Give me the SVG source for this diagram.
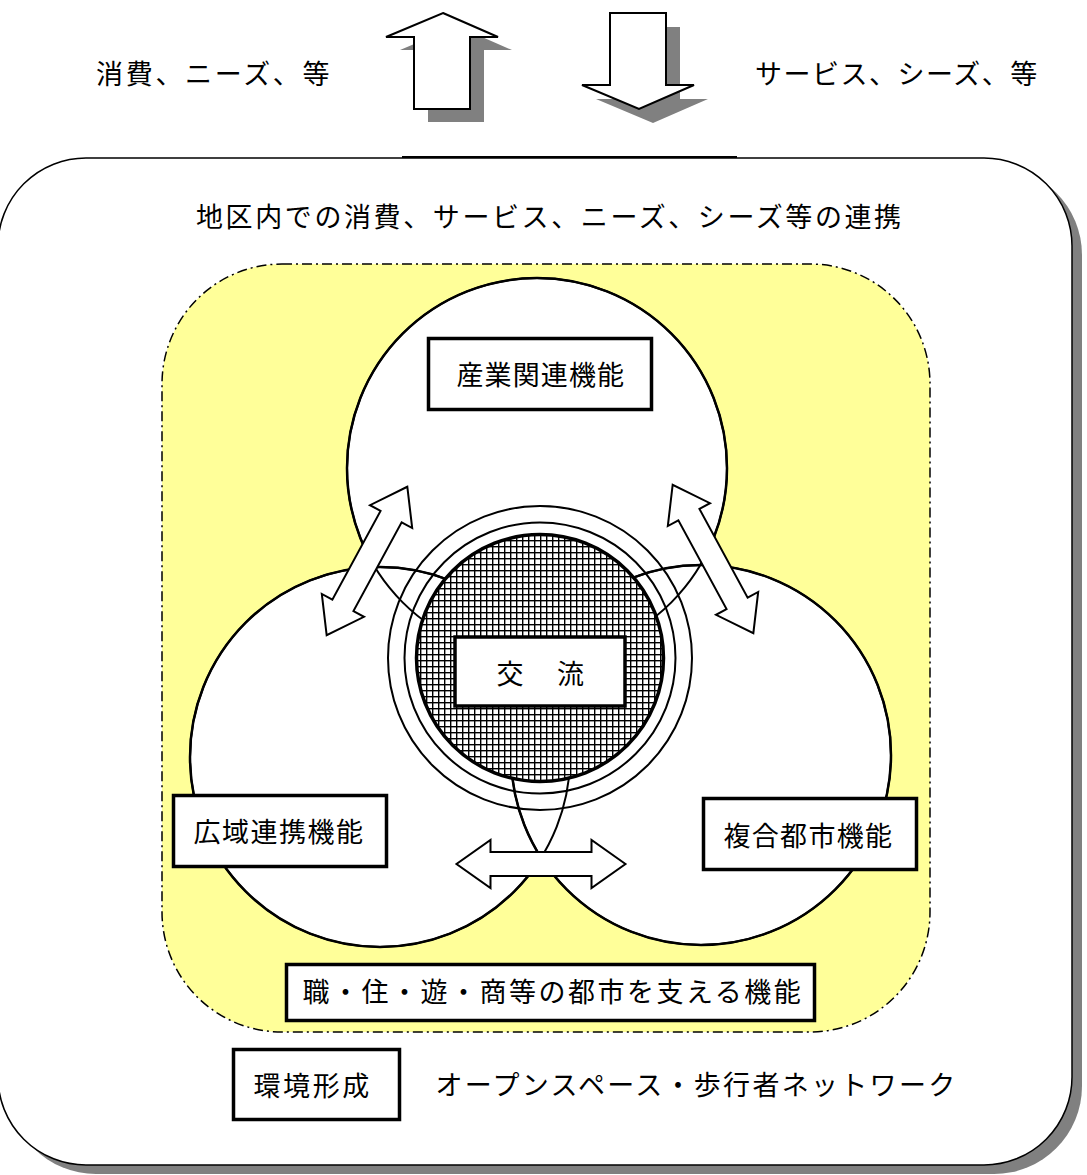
<svg xmlns="http://www.w3.org/2000/svg" width="1087" height="1175" viewBox="0 0 1087 1175">
<defs>
<style>
.t{font-family:"Noto Sans CJK JP","Noto Sans",sans-serif;font-size:27px;fill:#000;dominant-baseline:central}
.box{fill:#fff;stroke:#000;stroke-width:3.5}
.arr{fill:#fff;stroke:#000;stroke-width:2;stroke-linejoin:miter}
.shadow{fill:#808080}
.circ{fill:#fff;stroke:#000;stroke-width:2.5}
.arc{fill:none;stroke:#000;stroke-width:2}
</style>
<pattern id="grid" patternUnits="userSpaceOnUse" width="6" height="6">
<rect width="6" height="6" fill="#000"/>
<rect x="1.4" y="1.4" width="4.6" height="4.6" fill="#fff"/>
</pattern>
<polygon id="dbl" points="84.5,0 50.5,-24 50.5,-12 -50.5,-12 -50.5,-24 -84.5,0 -50.5,24 -50.5,12 50.5,12 50.5,24"/>
</defs>

<g id="outer-frame">
<rect x="8" y="167" width="1074" height="1007" rx="88" class="shadow"/>
<rect x="-2" y="158" width="1074" height="1007" rx="88" fill="#fff" stroke="#000" stroke-width="1.5"/>
<line x1="402" y1="157" x2="737" y2="157" stroke="#000" stroke-width="2"/>
</g>

<g id="flow-in">
<polygon class="shadow" points="457,26 512,50 484,50 484,122 428,122 428,50 400,50"/>
<polygon class="arr" points="443,13 498,37 470,37 470,109 414,109 414,37 386,37"/>
<text class="t" x="96" y="72" style="letter-spacing:2.7px">消費、ニーズ、等</text>
</g>
<g id="flow-out">
<polygon class="shadow" points="624,27 680,27 680,99 708,99 653,123 596,99 624,99"/>
<polygon class="arr" points="610,13 666,13 666,85 694,85 639,109 582,85 610,85"/>
<text class="t" x="755" y="72" style="letter-spacing:1.5px">サービス、シーズ、等</text>
</g>

<g id="district-label">
<text class="t" x="196" y="215" style="letter-spacing:2.6px">地区内での消費、サービス、ニーズ、シーズ等の連携</text>
</g>

<g id="urban-support-area">
<rect x="162" y="264" width="768" height="768" rx="120" fill="#ffff99" stroke="#000" stroke-width="1.5" stroke-dasharray="10,4,2,4"/>
</g>

<g id="function-circles">
<circle id="circle-industry" class="circ" cx="537" cy="468" r="190"/>
<circle id="circle-wide" class="circ" cx="380" cy="757" r="190"/>
<circle id="circle-complex" class="circ" cx="701" cy="755" r="190"/>
<circle class="arc" cx="537" cy="468" r="190"/>
<circle class="arc" cx="380" cy="757" r="190"/>
<circle class="arc" cx="701" cy="755" r="190"/>
</g>

<g id="exchange">
<circle cx="540" cy="658" r="152" class="arc"/>
<circle cx="540" cy="658" r="135.5" class="arc"/>
<circle cx="540" cy="658" r="123.5" fill="url(#grid)" stroke="#000" stroke-width="3.5"/>
<rect class="box" x="455" y="637" width="170" height="69" stroke-width="4"/>
<text class="t" x="496.5" y="672.5" style="letter-spacing:3.3px">交　流</text>
</g>

<g id="node-industry">
<rect class="box" x="428.5" y="338.5" width="223" height="71"/>
<text class="t" x="456.5" y="373.5" style="letter-spacing:1.1px">産業関連機能</text>
</g>
<g id="node-wide">
<rect class="box" x="173.5" y="795.5" width="213" height="71"/>
<text class="t" x="193.5" y="830.5" style="letter-spacing:1.5px">広域連携機能</text>
</g>
<g id="node-complex">
<rect class="box" x="703.5" y="798.5" width="213" height="71"/>
<text class="t" x="723.5" y="834.5" style="letter-spacing:1.3px">複合都市機能</text>
</g>
<g id="node-support">
<rect class="box" x="286.5" y="964.5" width="528" height="56"/>
<text class="t" x="302.5" y="990.5" style="letter-spacing:2.5px">職・住・遊・商等の都市を支える機能</text>
</g>
<g id="node-environment">
<rect class="box" x="233.5" y="1049.5" width="166" height="70"/>
<text class="t" x="253.5" y="1084.5" style="letter-spacing:2.6px">環境形成</text>
<text class="t" x="435.5" y="1083" style="letter-spacing:2.3px">オープンスペース・歩行者ネットワーク</text>
</g>

<g id="connectors">
<use href="#dbl" class="arr" transform="translate(367,561) rotate(-61.5)"/>
<use href="#dbl" class="arr" transform="translate(713,559) rotate(61.5)"/>
<use href="#dbl" class="arr" transform="translate(541,864)"/>
</g>
</svg>
